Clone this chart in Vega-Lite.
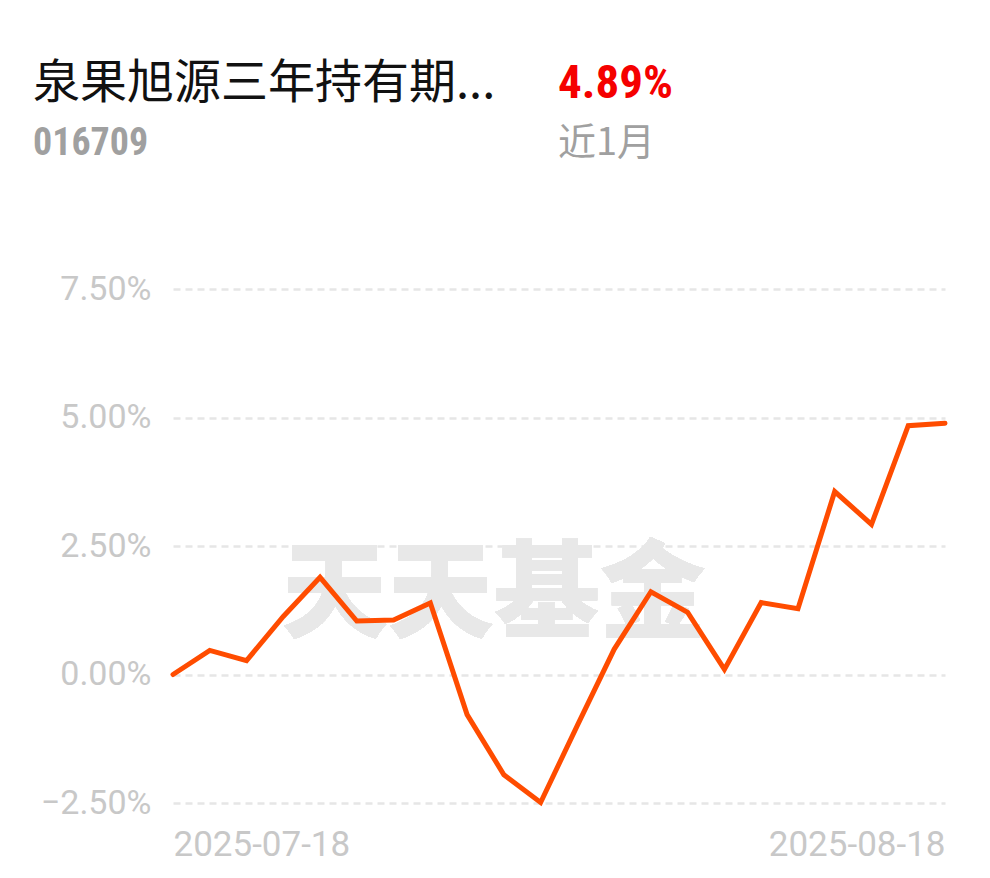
{
  "$schema": "https://vega.github.io/schema/vega-lite/v6.json",
  "background": "white",
  "padding": {"left": 33, "top": 60, "right": 20, "bottom": 10},
  "bounds": "flush",
  "spacing": 121,
  "config": {
    "view": {"stroke": null},
    "title": {"anchor": "start", "offset": 0, "subtitlePadding": 17}
  },
  "vconcat": [
    {
      "hconcat": [
        {
          "width": 385,
          "height": 1,
          "data": {"values": []},
          "mark": {"type": "text"},
          "title": {
            "text": "泉果旭源三年持有期...",
            "dx": -140,
            "font": "Noto Sans CJK SC",
            "fontSize": 47,
            "fontWeight": "normal",
            "color": "#111111",
            "subtitle": "016709",
            "subtitleFont": "Liberation Sans Narrow, Roboto Condensed, Roboto, sans-serif",
            "subtitleFontSize": 38,
            "subtitleFontWeight": "bold",
            "subtitleColor": "#a0a0a0"
          }
        },
        {
          "width": 200,
          "height": 1,
          "data": {"values": []},
          "mark": {"type": "text"},
          "title": {
            "text": "4.89%",
            "font": "Liberation Sans Narrow, Roboto Condensed, Roboto, sans-serif",
            "fontSize": 47,
            "fontWeight": "bold",
            "color": "#f50000",
            "subtitle": "近1月",
            "subtitleFont": "Noto Sans CJK SC",
            "subtitleFontSize": 38,
            "subtitleFontWeight": "normal",
            "subtitleColor": "#a0a0a0"
          }
        }
      ],
      "spacing": 0,
      "bounds": "flush"
    },
    {
      "width": 772,
      "height": 514,
      "data": {
        "values": [
          {"date": "2025-07-18", "value": 0.00},
          {"date": "2025-07-21", "value": 0.47},
          {"date": "2025-07-22", "value": 0.27},
          {"date": "2025-07-23", "value": 1.13},
          {"date": "2025-07-24", "value": 1.89},
          {"date": "2025-07-25", "value": 1.04},
          {"date": "2025-07-28", "value": 1.06},
          {"date": "2025-07-29", "value": 1.39},
          {"date": "2025-07-30", "value": -0.78},
          {"date": "2025-07-31", "value": -1.95},
          {"date": "2025-08-01", "value": -2.49},
          {"date": "2025-08-04", "value": -0.99},
          {"date": "2025-08-05", "value": 0.49},
          {"date": "2025-08-06", "value": 1.61},
          {"date": "2025-08-07", "value": 1.21},
          {"date": "2025-08-08", "value": 0.10},
          {"date": "2025-08-11", "value": 1.40},
          {"date": "2025-08-12", "value": 1.28},
          {"date": "2025-08-13", "value": 3.56},
          {"date": "2025-08-14", "value": 2.92},
          {"date": "2025-08-15", "value": 4.84},
          {"date": "2025-08-18", "value": 4.89}
        ]
      },
      "encoding": {
        "x": {
          "field": "date",
          "type": "ordinal",
          "scale": {"type": "point", "padding": 0},
          "axis": {
            "title": null,
            "values": ["2025-07-18", "2025-08-18"],
            "labelFlush": true,
            "labelAngle": 0,
            "domain": false,
            "ticks": false,
            "grid": false,
            "labelFont": "Roboto",
            "labelFontSize": 35,
            "labelColor": "#c8c8c8",
            "labelPadding": 24
          }
        }
      },
      "layer": [
        {
          "mark": {"type": "text", "text": "天天基金", "font": "Noto Sans CJK SC", "fontWeight": 900, "fontSize": 106, "color": "#e8e8e8", "dx": -10, "baseline": "middle", "align": "center"},
          "encoding": {
            "x": {"datum": "2025-07-31"},
            "y": {"datum": 1.5}
          }
        },
        {
          "mark": {"type": "line", "color": "#ff4c00", "strokeWidth": 5, "strokeCap": "round", "strokeJoin": "miter"},
          "encoding": {
            "y": {
              "field": "value",
              "type": "quantitative",
              "scale": {"domain": [-2.5, 7.5], "nice": false, "zero": false},
              "axis": {
                "title": null,
                "values": [-2.5, 0, 2.5, 5, 7.5],
                "labelExpr": "format(datum.value, '.2f') + '%'",
                "domain": false,
                "ticks": false,
                "grid": true,
                "gridColor": "#e6e6e6",
                "gridDash": [7, 5],
                "gridWidth": 2.5,
                "labelFont": "Roboto",
                "labelFontSize": 34,
                "labelColor": "#c8c8c8",
                "labelPadding": 22
              }
            }
          }
        }
      ]
    }
  ]
}
